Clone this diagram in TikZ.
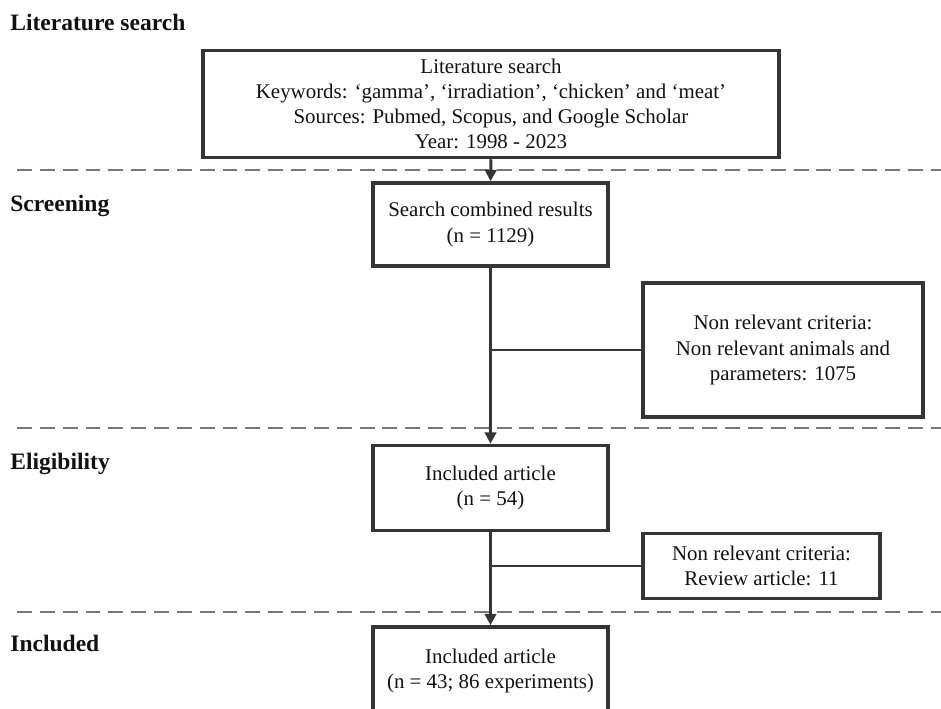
\documentclass[tikz,border=0pt]{standalone}
\usepackage{fontspec}
\setmainfont{Liberation Serif}
\usetikzlibrary{arrows.meta}
\definecolor{boxc}{HTML}{353535}
\definecolor{dashc}{HTML}{777777}
\definecolor{txtc}{HTML}{111111}
\begin{document}
\begin{tikzpicture}[x=0.02cm,y=-0.02cm,
  stagebox/.style={draw=boxc, line width=2pt, align=center, inner sep=0pt,
    font=\fontsize{11.9}{14.3}\selectfont, text=txtc},
  phase/.style={anchor=west, inner sep=0pt, font=\fontsize{13.4}{15}\selectfont\bfseries, text=txtc},
  sepline/.style={draw=dashc, line width=1.4pt, dash pattern=on 8.5pt off 4.5pt},
  flow/.style={draw=boxc, line width=1.7pt, -{Triangle[width=6.5pt,length=6.5pt]}},
  branch/.style={draw=boxc, line width=1.7pt}]
\useasboundingbox (0,0) rectangle (941,709);
\clip (0,0) rectangle (941,709);

% phase labels
\node[phase] (lLit) at (10,22) {Literature search};
\node[phase] (lScr) at (10,206) {Screening};
\node[phase] (lEli) at (10,464) {Eligibility};
\node[phase] (lInc) at (10,643) {Included};

% separators
\coordinate (d1a) at (17,170); \coordinate (d1b) at (941,170);
\coordinate (d2a) at (17,428); \coordinate (d2b) at (941,428);
\coordinate (d3a) at (17,612); \coordinate (d3b) at (941,612);
\draw[sepline] (d1a) -- (d1b);
\draw[sepline] (d2a) -- (d2b);
\draw[sepline] (d3a) -- (d3b);

% boxes
\node[stagebox, minimum width=576*0.02cm, minimum height=107*0.02cm] (b1) at (491,104)
  {Literature search\\Keywords: ‘gamma’, ‘irradiation’, ‘chicken’ and ‘meat’\\Sources: Pubmed, Scopus, and Google Scholar\\Year: 1998 - 2023};
\node[stagebox, minimum width=235*0.02cm, minimum height=83*0.02cm] (b2) at (490.5,224.5)
  {Search combined results\\(n = 1129)};
\node[stagebox, minimum width=280*0.02cm, minimum height=134*0.02cm] (b3) at (783,350)
  {Non relevant criteria:\\Non relevant animals and\\parameters: 1075};
\node[stagebox, minimum width=235*0.02cm, minimum height=85*0.02cm] (b4) at (490.5,488)
  {Included article\\(n = 54)};
\node[stagebox, minimum width=237*0.02cm, minimum height=65*0.02cm] (b5) at (761.5,566)
  {Non relevant criteria:\\Review article: 11};
\node[stagebox, minimum width=235*0.02cm, minimum height=88*0.02cm] (b6) at (490.5,671)
  {Included article\\(n = 43; 86 experiments)};

% connectors
\draw[flow] (b1.south) -- (b2.north);
\draw[flow] (b2.south) -- (b4.north);
\draw[flow] (b4.south) -- (b6.north);
\draw[branch] (b3.west) -- (b3.west -| b2.south);
\draw[branch] (b5.west) -- (b5.west -| b4.south);
\end{tikzpicture}
\end{document}
